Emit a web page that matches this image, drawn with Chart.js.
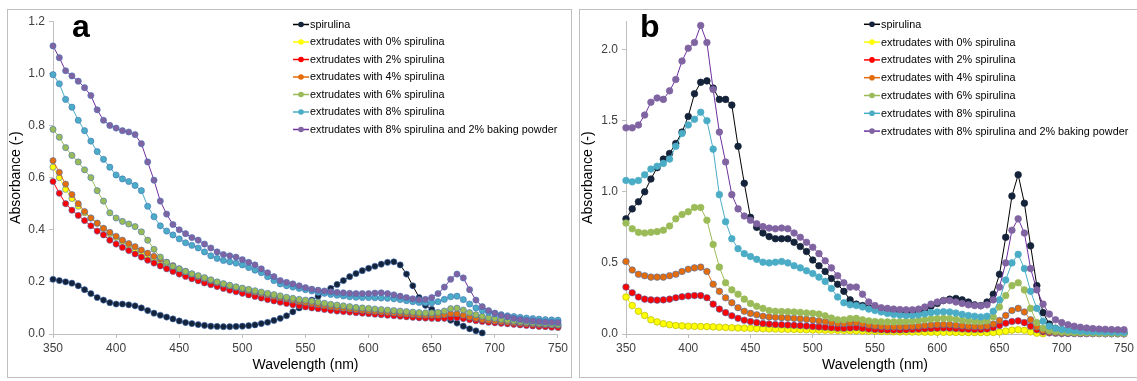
<!DOCTYPE html>
<html>
<head>
<meta charset="utf-8">
<script src="https://cdn.jsdelivr.net/npm/chart.js@4"></script>
<style>
  body { margin: 0; background: #fff; }
  .panel { position: absolute; border: 1px solid #bfbfbf; background: #fff; }
  #panelA { left: 7px; top: 9px; width: 563px; height: 367px; }
  #panelB { left: 579px; top: 9px; width: 557px; height: 367px; }
</style>
</head>
<body>
<div class="panel" id="panelA"><canvas id="chartA" width="563" height="367"></canvas></div>
<div class="panel" id="panelB"><canvas id="chartB" width="557" height="367"></canvas></div>
<script>
// wavelength axis, 350-750 nm every 5 nm
const wavelengths = [];
for (let w = 350; w <= 750; w += 5) wavelengths.push(w);

const seriesNames = ['spirulina', 'extrudates with 0% spirulina', 'extrudates with 2% spirulina',
  'extrudates with 4% spirulina', 'extrudates with 6% spirulina', 'extrudates with 8% spirulina',
  'extrudates with 8% spirulina and 2% baking powder'];

const xTicks = [350, 400, 450, 500, 550, 600, 650, 700, 750];
const yTicksA = [0, 0.2, 0.4, 0.6, 0.8, 1.0, 1.2];
const yTicksB = [0, 0.5, 1.0, 1.5, 2.0];

// ---- panel a ----
const aSpirulina = [
  .21, .205, .20, .195, .185, .17, .155, .14, .13, .12,
  .115, .115, .112, .108, .10, .09, .08, .072, .065, .058,
  .05, .044, .04, .036, .033, .03, .029, .028, .028, .029,
  .03, .032, .035, .04, .045, .052, .06, .07, .085, .10,
  .115, .13, .145, .16, .175, .19, .205, .22, .232, .243,
  .252, .26, .268, .275, .277, .265, .23, .185, .14, .11,
  .095, .08, .065, .053, .042, .03, .02, .012, .004, null,
  null, null, null, null, null, null, null, null, null, null, null];
const aExt0 = [
  .64, .60, .555, .52, .49, .465, .445, .425, .405, .385,
  .37, .355, .34, .325, .31, .295, .28, .268, .256, .245,
  .235, .226, .218, .21, .203, .196, .19, .184, .178, .172,
  .167, .162, .157, .152, .147, .142, .137, .132, .127, .123,
  .119, .115, .111, .107, .104, .101, .098, .095, .092, .09,
  .088, .086, .084, .082, .08, .078, .076, .074, .072, .07,
  .069, .068, .068, .069, .069, .066, .061, .057, .054, .051,
  .049, .047, .045, .043, .041, .039, .037, .035, .033, .031, .03];
const aExt2 = [
  .585, .54, .50, .475, .455, .435, .415, .395, .38, .36,
  .345, .332, .32, .307, .295, .283, .272, .261, .25, .24,
  .23, .221, .212, .204, .196, .189, .182, .175, .168, .162,
  .156, .15, .144, .138, .132, .127, .122, .117, .112, .108,
  .104, .10, .097, .094, .091, .088, .086, .084, .082, .08,
  .078, .076, .074, .072, .07, .068, .066, .064, .062, .061,
  .06, .059, .06, .062, .062, .059, .055, .051, .048, .045,
  .043, .041, .039, .037, .035, .033, .031, .029, .028, .026, .025];
const aExt4 = [
  .665, .62, .575, .535, .50, .47, .445, .425, .405, .39,
  .375, .36, .347, .335, .322, .31, .298, .287, .275, .262,
  .25, .24, .23, .221, .213, .205, .198, .191, .185, .179,
  .173, .167, .161, .156, .151, .145, .14, .135, .13, .125,
  .121, .117, .113, .109, .105, .102, .099, .096, .093, .091,
  .089, .087, .085, .083, .081, .079, .077, .075, .073, .072,
  .072, .072, .074, .078, .078, .072, .065, .06, .056, .053,
  .05, .048, .046, .044, .042, .04, .038, .037, .036, .035, .034];
const aExt6 = [
  .785, .755, .715, .685, .66, .63, .60, .55, .51, .465,
  .445, .432, .422, .412, .392, .36, .325, .295, .275, .26,
  .25, .24, .231, .224, .216, .208, .20, .193, .187, .181,
  .176, .171, .166, .161, .156, .151, .146, .141, .137, .133,
  .13, .126, .122, .118, .114, .111, .108, .105, .102, .10,
  .098, .096, .094, .092, .09, .088, .086, .084, .082, .081,
  .081, .083, .088, .097, .099, .092, .082, .074, .068, .063,
  .06, .056, .053, .05, .047, .045, .043, .041, .039, .037, .036];
const aExt8 = [
  .995, .96, .90, .87, .82, .78, .74, .70, .67, .64,
  .61, .595, .585, .57, .55, .49, .45, .415, .395, .38,
  .365, .35, .34, .33, .315, .30, .29, .282, .277, .272,
  .265, .255, .245, .235, .22, .205, .192, .185, .18, .175,
  .17, .165, .16, .156, .152, .149, .146, .143, .141, .14,
  .14, .139, .138, .137, .135, .132, .128, .124, .121, .12,
  .12, .124, .133, .143, .145, .132, .115, .10, .09, .083,
  .078, .074, .07, .067, .064, .061, .059, .057, .055, .054, .053];
const aExt8bp = [
  1.105, 1.06, 1.01, .99, .97, .945, .915, .86, .82, .80,
  .79, .78, .775, .765, .73, .66, .59, .51, .46, .42,
  .40, .385, .37, .36, .345, .33, .315, .305, .30, .295,
  .285, .275, .265, .25, .235, .22, .205, .198, .192, .185,
  .178, .172, .168, .165, .162, .16, .158, .156, .155, .155,
  .155, .157, .158, .155, .15, .145, .14, .135, .132, .133,
  .14, .155, .18, .21, .23, .215, .17, .13, .105, .09,
  .08, .072, .066, .06, .056, .052, .05, .048, .046, .045, .044];

// ---- panel b ----
const bSpirulina = [
  .81, .88, .93, 1.0, 1.09, 1.17, 1.23, 1.27, 1.34, 1.42,
  1.53, 1.69, 1.77, 1.78, 1.73, 1.65, 1.65, 1.61, 1.32, 1.06,
  .82, .75, .71, .685, .67, .67, .67, .645, .615, .58,
  .52, .48, .44, .39, .35, .30, .24, .21, .20, .185,
  .175, .17, .165, .16, .155, .152, .15, .16, .175, .195,
  .215, .235, .245, .25, .24, .225, .205, .20, .225, .28,
  .42, .68, .97, 1.12, .92, .62, .34, .15, .07, .04,
  .03, .025, .02, .017, .015, .013, .012, .011, .01, .01, .009];
const bExt0 = [
  .26, .20, .16, .13, .10, .085, .072, .065, .06, .057,
  .055, .054, .053, .052, .05, .048, .046, .044, .042, .041,
  .04, .038, .037, .036, .035, .034, .033, .032, .031, .03,
  .029, .028, .027, .026, .025, .024, .023, .022, .021, .02,
  .019, .018, .017, .016, .015, .015, .014, .014, .013, .013,
  .012, .012, .012, .011, .011, .01, .01, .01, .01, .011,
  .014, .02, .027, .03, .026, .015, .006, .002, null, null,
  null, null, null, null, null, null, null, null, null, null, null];
const bExt2 = [
  .33, .29, .26, .245, .24, .238, .24, .245, .255, .262,
  .267, .27, .27, .255, .21, .175, .15, .128, .11, .097,
  .088, .08, .074, .07, .067, .065, .063, .061, .059, .056,
  .053, .05, .047, .044, .041, .04, .043, .045, .04, .035,
  .032, .03, .029, .029, .029, .03, .032, .034, .037, .039,
  .041, .042, .041, .038, .035, .033, .032, .032, .035, .045,
  .06, .076, .088, .092, .08, .055, .03, .015, .008, .005,
  .004, .003, .003, .002, .002, .002, .002, .001, .001, .001, .001];
const bExt4 = [
  .51, .45, .42, .41, .40, .40, .40, .41, .42, .44,
  .455, .465, .47, .44, .35, .30, .255, .22, .185, .16,
  .145, .135, .125, .12, .117, .115, .113, .11, .107, .103,
  .098, .092, .086, .08, .075, .074, .078, .08, .072, .063,
  .057, .053, .051, .05, .05, .051, .053, .056, .06, .063,
  .066, .067, .066, .062, .058, .055, .053, .052, .056, .07,
  .095, .13, .165, .18, .155, .10, .05, .025, .014, .01,
  .008, .007, .006, .005, .005, .004, .004, .004, .003, .003, .003];
const bExt6 = [
  .78, .74, .715, .71, .715, .72, .73, .76, .81, .84,
  .86, .89, .89, .80, .63, .47, .36, .31, .28, .245,
  .215, .195, .18, .165, .16, .158, .157, .155, .152, .148,
  .145, .14, .128, .112, .10, .10, .108, .11, .10, .092,
  .088, .086, .085, .085, .086, .088, .09, .095, .10, .105,
  .108, .11, .108, .103, .097, .092, .089, .088, .093, .12,
  .19, .27, .34, .36, .31, .18, .08, .04, .025, .018,
  .014, .012, .01, .009, .008, .007, .006, .006, .005, .005, .005];
const bExt8 = [
  1.08, 1.07, 1.08, 1.12, 1.16, 1.18, 1.20, 1.23, 1.32, 1.41,
  1.47, 1.51, 1.56, 1.50, 1.30, .98, .79, .67, .60, .565,
  .545, .525, .505, .50, .505, .51, .50, .48, .465, .445,
  .425, .40, .37, .32, .26, .22, .205, .20, .19, .175,
  .165, .155, .145, .138, .133, .13, .13, .135, .142, .15,
  .155, .157, .155, .148, .138, .13, .125, .12, .125, .16,
  .24, .38, .50, .56, .46, .30, .18, .09, .055, .04,
  .032, .027, .023, .02, .018, .016, .015, .014, .013, .012, .012];
const bExt8bp = [
  1.45, 1.45, 1.47, 1.54, 1.63, 1.66, 1.65, 1.71, 1.79, 1.92,
  2.01, 2.05, 2.17, 2.05, 1.72, 1.42, 1.21, .98, .88, .83,
  .80, .775, .755, .745, .74, .745, .74, .71, .68, .645,
  .61, .565, .515, .465, .41, .36, .33, .33, .28, .225,
  .20, .185, .18, .175, .172, .17, .17, .175, .19, .21,
  .225, .235, .235, .225, .215, .205, .20, .198, .205, .24,
  .33, .50, .73, .81, .71, .46, .31, .21, .14, .10,
  .08, .065, .055, .048, .042, .038, .035, .033, .031, .03, .03];

const seriesA = [aSpirulina, aExt0, aExt2, aExt4, aExt6, aExt8, aExt8bp];
const seriesB = [bSpirulina, bExt0, bExt2, bExt4, bExt6, bExt8, bExt8bp];

const fillColors = ['#14233a', '#ffff00', '#ff0000', '#e46c0a', '#9bbb59', '#4bacc6', '#8064a2'];
const lineColors = ['#000000', '#ffff00', '#ff0000', '#e46c0a', '#9bbb59', '#4bacc6', '#7030a0'];
const edgeA = 'rgba(70,115,185,0.85)';
const edgeB = ['#14233a', '#b8b800', edgeA, edgeA, '#9bbb59', '#4bacc6', '#8064a2'];

function toPoints(vals) {
  return wavelengths.map((w, i) => ({ x: w, y: vals[i] })).filter(p => p.y !== null);
}

function makeDatasets(series, edge, radius) {
  return series.map((vals, i) => ({
    label: seriesNames[i],
    data: toPoints(vals),
    borderColor: lineColors[i],
    borderWidth: 1,
    pointBackgroundColor: fillColors[i],
    pointBorderColor: Array.isArray(edge) ? edge[i] : edge,
    pointBorderWidth: 0.7,
    pointRadius: radius,
    tension: 0,
    clip: 6,
    order: series.length - i
  }));
}

// letter + legend drawn inside the plot
const overlay = {
  id: 'overlay',
  afterDraw(chart, args, o) {
    const ctx = chart.ctx;
    ctx.save();
    ctx.fillStyle = '#000';
    ctx.font = 'bold 32px "Liberation Sans", Arial, sans-serif';
    ctx.textBaseline = 'alphabetic';
    ctx.fillText(o.letter, o.letterX, o.letterY);
    ctx.font = '10.8px "Liberation Sans", Arial, sans-serif';
    ctx.textBaseline = 'middle';
    chart.data.datasets.forEach((ds, i) => {
      const y = o.legY + i * o.legStep;
      ctx.strokeStyle = ds.borderColor;
      ctx.lineWidth = 1.5;
      ctx.beginPath();
      ctx.moveTo(o.legX, y);
      ctx.lineTo(o.legX + 16, y);
      ctx.stroke();
      ctx.beginPath();
      ctx.arc(o.legX + 8, y, 2.8, 0, Math.PI * 2);
      ctx.fillStyle = ds.pointBackgroundColor;
      ctx.fill();
      ctx.fillStyle = '#000';
      ctx.fillText(ds.label, o.legX + 17, y + 0.5);
    });
    ctx.restore();
  }
};

function axisFont(size) {
  return { family: '"Liberation Sans", Arial, sans-serif', size: size };
}

function makeChart(id, series, edge, radius, yMax, yTicks, pad, yWidth, over) {
  const ctx = document.getElementById(id).getContext('2d');
  return new Chart(ctx, {
    type: 'line',
    data: { datasets: makeDatasets(series, edge, radius) },
    plugins: [overlay],
    options: {
      responsive: false,
      animation: false,
      devicePixelRatio: 1,
      layout: { padding: pad },
      plugins: { legend: { display: false }, tooltip: { enabled: false }, overlay: over },
      scales: {
        x: {
          type: 'linear', min: 350, max: 750,
          afterBuildTicks: s => { s.ticks = xTicks.map(v => ({ value: v })); },
          afterFit: s => { s.height = 43; },
          border: { color: '#bfbfbf' },
          grid: { drawOnChartArea: false, tickLength: 4, color: '#bfbfbf' },
          ticks: { font: axisFont(12), color: '#404040', padding: 3, maxRotation: 0 },
          title: { display: true, text: 'Wavelength (nm)', font: axisFont(14), color: '#000', padding: { top: 2, bottom: 3 } }
        },
        y: {
          min: 0, max: yMax,
          afterBuildTicks: s => { s.ticks = yTicks.map(v => ({ value: v })); },
          afterFit: s => { s.width = yWidth; },
          border: { color: '#bfbfbf' },
          grid: { drawOnChartArea: false, tickLength: 4, color: '#bfbfbf' },
          ticks: { font: axisFont(12), color: '#404040', padding: 4, callback: v => v.toFixed(1) },
          title: { display: true, text: 'Absorbance (-)', font: axisFont(14), color: '#000', padding: { top: 0, bottom: 0 } }
        }
      }
    }
  });
}

makeChart('chartA', seriesA, edgeA, 3.1, 1.2, yTicksA,
  { top: 8, right: 12, bottom: 0, left: 0 }, 45,
  { letter: 'a', letterX: 64, letterY: 27, legX: 285, legY: 14.5, legStep: 17.5 });
makeChart('chartB', seriesB, edgeB, 3.3, 2.2, yTicksB,
  { top: 7, right: 5, bottom: 0, left: 0 }, 46,
  { letter: 'b', letterX: 60, letterY: 27, legX: 284, legY: 14.3, legStep: 17.8 });
</script>
</body>
</html>
